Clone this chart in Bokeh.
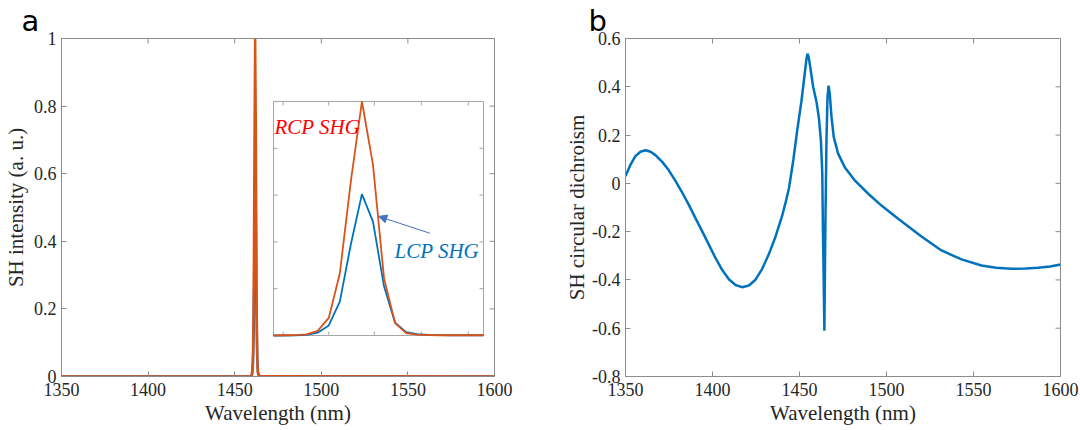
import math
from bokeh.plotting import figure
from bokeh.layouts import row
from bokeh.models import (Range1d, FixedTicker, Label, Arrow, NormalHead, CustomJSTickFormatter)
from bokeh.embed import file_html
from bokeh.resources import INLINE

# ---------------- data ----------------
# panel a: SH intensity around the resonance (normalised to RCP maximum)
peak_wl = [1458.6, 1459.0, 1459.4, 1459.8, 1460.2, 1460.6, 1461.0, 1461.4, 1461.8, 1462.2,
           1462.6, 1463.0, 1463.4, 1463.8, 1464.2, 1464.6, 1465.0, 1465.4, 1465.8, 1466.2]
rcp_peak = [0.000, 0.001, 0.002, 0.005, 0.020, 0.075, 0.265, 0.660, 1.000, 0.730,
            0.245, 0.053, 0.010, 0.004, 0.002, 0.001, 0.001, 0.001, 0.001, 0.001]
lcp_peak = [0.000, 0.000, 0.001, 0.003, 0.012, 0.043, 0.145, 0.390, 0.604, 0.487,
            0.210, 0.055, 0.014, 0.006, 0.003, 0.002, 0.001, 0.001, 0.001, 0.001]
wl_ends = [1350.0, 1600.0]
baseline = [0.0, 0.0]

main_wl = [wl_ends[0]] + peak_wl + [wl_ends[1]]
main_rcp = [baseline[0]] + rcp_peak + [baseline[1]]
main_lcp = [baseline[0]] + lcp_peak + [baseline[1]]

a_xticks = [1350, 1400, 1450, 1500, 1550, 1600]
a_yticks = [0, 0.2, 0.4, 0.6, 0.8, 1]

inset_xlim = [1458.6, 1466.2]
inset_ylim = [0.0, 1.0]
inset_xticks = [1458.95, 1460.6, 1462.25, 1463.95, 1465.65]
inset_yticks = [0.2, 0.4, 0.6, 0.8]

# panel b: SH circular dichroism
cd_wl = [1350.0, 1352.9, 1355.7, 1358.6, 1361.5, 1364.4, 1367.2, 1371.1, 1374.9, 1378.7,
         1382.6, 1386.4, 1390.2, 1394.1, 1397.9, 1401.7, 1405.6, 1409.4, 1413.2, 1417.0,
         1420.9, 1424.7, 1428.5, 1432.4, 1436.2, 1440.0, 1442.0, 1444.0, 1446.5, 1448.7,
         1451.1, 1453.0, 1454.0, 1454.6, 1455.2, 1455.9, 1457.9, 1459.8, 1461.1, 1462.3,
         1463.1, 1463.4, 1463.9, 1464.3, 1464.9, 1465.5, 1466.1, 1466.7, 1467.4, 1468.4,
         1469.7, 1472.2, 1476.0, 1481.8, 1489.5, 1497.1, 1506.7, 1520.1, 1531.6, 1543.1,
         1554.6, 1563.0, 1571.8, 1580.0, 1587.2, 1594.0, 1600.0]
cd_val = [0.030, 0.078, 0.113, 0.131, 0.137, 0.131, 0.117, 0.089, 0.054, 0.010,
          -0.038, -0.089, -0.144, -0.199, -0.254, -0.309, -0.359, -0.397, -0.421, -0.430,
          -0.423, -0.399, -0.355, -0.293, -0.221, -0.135, -0.080, -0.018, 0.100, 0.220,
          0.340, 0.454, 0.515, 0.537, 0.525, 0.495, 0.398, 0.336, 0.274, 0.178,
          0.040, -0.154, -0.400, -0.610, -0.154, 0.178, 0.357, 0.405, 0.371, 0.274,
          0.191, 0.123, 0.067, 0.012, -0.043, -0.092, -0.147, -0.220, -0.278, -0.315,
          -0.340, -0.350, -0.354, -0.353, -0.350, -0.344, -0.336]
b_xticks = [1350, 1400, 1450, 1500, 1550, 1600]
b_yticks = [-0.8, -0.6, -0.4, -0.2, 0, 0.2, 0.4, 0.6]

# ---------------- style ----------------
GRAY = "#8C8C8C"
INSET_GRAY = "#A6A6A6"
TXT = "#262626"
BLUE = "#0072BD"
ORANGE = "#D95319"
SERIF = "Liberation Serif"
fmt_code = "return String(Number(tick.toFixed(3)));"


def style(p, xticks, yticks, ylabel_standoff, panel_letter, letter_offset):
    for ax in (p.xaxis[0], p.yaxis[0]):
        ax.major_tick_in = 5
        ax.major_tick_out = 0
        ax.minor_tick_line_color = None
        ax.axis_line_color = GRAY
        ax.major_tick_line_color = GRAY
        ax.major_label_text_font = SERIF
        ax.major_label_text_font_size = "18px"
        ax.major_label_text_color = TXT
        ax.axis_label_text_font = SERIF
        ax.axis_label_text_font_size = "21px"
        ax.axis_label_text_font_style = "normal"
        ax.axis_label_text_color = TXT
        ax.formatter = CustomJSTickFormatter(code=fmt_code)
    p.xaxis[0].ticker = FixedTicker(ticks=xticks)
    p.yaxis[0].ticker = FixedTicker(ticks=yticks)
    p.xaxis[0].major_label_standoff = 6
    p.xaxis[0].axis_label_standoff = 2
    p.yaxis[0].major_label_standoff = 5
    p.yaxis[0].axis_label_standoff = ylabel_standoff
    # mirrored inward ticks on top / right edges (dash markers half clipped by the frame)
    n, m = len(xticks), len(yticks)
    p.scatter(x=xticks, y=[yticks[-1]] * n, marker="dash", size=10, angle=math.pi / 2,
              line_color=GRAY, line_width=1)
    p.scatter(x=[xticks[-1]] * m, y=yticks, marker="dash", size=10,
              line_color=GRAY, line_width=1)
    p.grid.visible = False
    p.outline_line_color = GRAY
    p.background_fill_color = "white"
    p.border_fill_color = "white"
    p.title.text = panel_letter
    p.title.text_font = "DejaVu Sans"
    p.title.text_font_size = "29px"
    p.title.text_font_style = "normal"
    p.title.text_color = "black"
    p.title.align = "left"
    p.title.offset = letter_offset
    p.title.standoff = 2


# ---------------- panel a ----------------
FRAME_L, FRAME_W, FRAME_T, FRAME_H = 60, 433, 38, 338
IN_L, IN_R, IN_T, IN_B = 272, 482, 101, 335

pa = figure(frame_width=FRAME_W, frame_height=FRAME_H,
            x_range=Range1d(a_xticks[0], a_xticks[-1]), y_range=Range1d(a_yticks[0], a_yticks[-1]),
            min_border_left=FRAME_L, min_border_right=540 - FRAME_L - FRAME_W,
            min_border_top=FRAME_T, min_border_bottom=430 - FRAME_T - FRAME_H,
            output_backend="svg", toolbar_location=None)
pa.xaxis.axis_label = "Wavelength (nm)"
pa.yaxis.axis_label = "SH intensity (a. u.)"
style(pa, a_xticks, a_yticks, 3, "a", -40)

pa.line(main_wl, main_lcp, line_color=BLUE, line_width=2.5)
pa.line(main_wl, main_rcp, line_color=ORANGE, line_width=2.5)

# inset drawn on extra ranges mapped onto the inset box
sx = (IN_R - IN_L) / (inset_xlim[1] - inset_xlim[0])
sy = (IN_B - IN_T) / (inset_ylim[1] - inset_ylim[0])
pa.extra_x_ranges = {"ix": Range1d(inset_xlim[0] - (IN_L - FRAME_L) / sx,
                                   inset_xlim[1] + (FRAME_L + FRAME_W - IN_R) / sx)}
pa.extra_y_ranges = {"iy": Range1d(inset_ylim[0] - (FRAME_T + FRAME_H - IN_B) / sy,
                                   inset_ylim[1] + (IN_T - FRAME_T) / sy)}
R = dict(x_range_name="ix", y_range_name="iy")

pa.quad(left=[inset_xlim[0]], right=[inset_xlim[1]], bottom=[inset_ylim[0]], top=[inset_ylim[1]],
        fill_color="white", line_color=INSET_GRAY, line_width=1, **R)
tlx = 4 / sx
tly = 4 / sy
n = len(inset_xticks)
pa.segment(x0=inset_xticks, y0=[inset_ylim[0]] * n, x1=inset_xticks, y1=[inset_ylim[0] + tly] * n,
           line_color=INSET_GRAY, line_width=1, **R)
pa.segment(x0=inset_xticks, y0=[inset_ylim[1]] * n, x1=inset_xticks, y1=[inset_ylim[1] - tly] * n,
           line_color=INSET_GRAY, line_width=1, **R)
m = len(inset_yticks)
pa.segment(x0=[inset_xlim[0]] * m, y0=inset_yticks, x1=[inset_xlim[0] + tlx] * m, y1=inset_yticks,
           line_color=INSET_GRAY, line_width=1, **R)
pa.segment(x0=[inset_xlim[1]] * m, y0=inset_yticks, x1=[inset_xlim[1] - tlx] * m, y1=inset_yticks,
           line_color=INSET_GRAY, line_width=1, **R)

pa.line(peak_wl, lcp_peak, line_color=BLUE, line_width=1.8, **R)
pa.line(peak_wl, rcp_peak, line_color=ORANGE, line_width=1.8, **R)

pa.add_layout(Label(x=inset_xlim[0], y=0.893, x_offset=1, text="RCP SHG", text_color="#FF0000",
                    text_font=SERIF, text_font_style="italic", text_font_size="21px",
                    text_baseline="alphabetic", **R))
pa.add_layout(Label(x=1462.98, y=0.36, text="LCP SHG", text_color=BLUE,
                    text_font=SERIF, text_font_style="italic", text_font_size="21px",
                    text_baseline="alphabetic", **R))
ARROW_C = "#4472C4"
pa.add_layout(Arrow(end=NormalHead(size=8, fill_color=ARROW_C, line_color=ARROW_C),
                    x_start=1464.26, y_start=0.437, x_end=1462.41, y_end=0.509,
                    line_color=ARROW_C, line_width=1, **R))

# ---------------- panel b ----------------
B_L, B_W = 84, 435
pb = figure(frame_width=B_W, frame_height=FRAME_H,
            x_range=Range1d(b_xticks[0], b_xticks[-1]), y_range=Range1d(b_yticks[0], b_yticks[-1]),
            min_border_left=B_L, min_border_right=540 - B_L - B_W,
            min_border_top=FRAME_T, min_border_bottom=430 - FRAME_T - FRAME_H,
            output_backend="svg", toolbar_location=None)
pb.xaxis.axis_label = "Wavelength (nm)"
pb.yaxis.axis_label = "SH circular dichroism"
style(pb, b_xticks, b_yticks, 0, "b", -37)
pb.line(cd_wl, cd_val, line_color=BLUE, line_width=2.5)

layout = row(pa, pb, spacing=0)
open("out.html", "w").write(file_html(layout, INLINE))
